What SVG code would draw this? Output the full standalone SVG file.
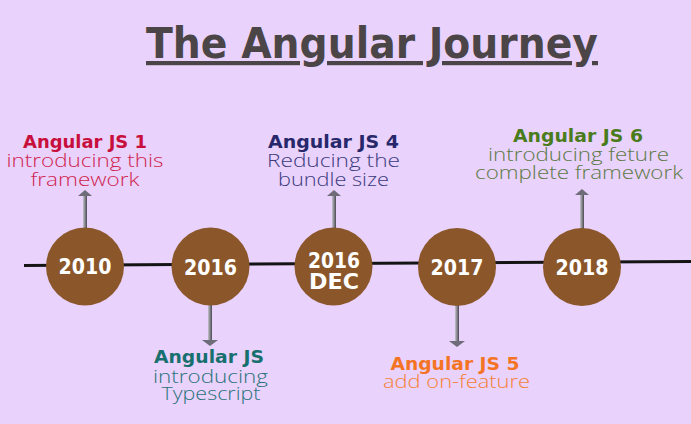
<svg xmlns="http://www.w3.org/2000/svg" width="691" height="424" viewBox="0 0 691 424">
  <defs>
    <linearGradient id="shaft" x1="0" y1="0" x2="1" y2="0">
      <stop offset="0" stop-color="#c4c2cc"/>
      <stop offset="1" stop-color="#4a4850"/>
    </linearGradient>
    <style>
      .title { font-family: "DejaVu Sans", "Liberation Sans", sans-serif; font-weight: 700; font-size: 42px; fill: #4b4548; text-decoration: underline; }
      .year { font-family: "DejaVu Sans", "Liberation Sans", sans-serif; font-weight: 700; font-size: 21px; fill: #ffffff; }
      .hd { font-family: "DejaVu Sans", "Liberation Sans", sans-serif; font-weight: 700; font-size: 18px; }
      .tx { font-family: "Open Sans", "Lato", "DejaVu Sans", sans-serif; font-weight: 300; font-size: 19px; }
      .node circle { fill: #8b572a; }
      .shaft { fill: url(#shaft); }
      .head { fill: #6e6c78; }
    </style>
  </defs>
  <rect x="0" y="0" width="691" height="424" fill="#e9d2fc"/>

  <text class="title" x="372" y="58" text-anchor="middle" textLength="452" lengthAdjust="spacingAndGlyphs">The Angular Journey</text>

  <g id="connectors">
    <line x1="24" y1="265.5" x2="691" y2="261.5" stroke="#141414" stroke-width="3"/>
    <rect class="shaft" x="83" y="195" width="4" height="34"/>
    <polygon class="head" points="78,196 92,196 85,190"/>
    <rect class="shaft" x="332" y="195" width="4" height="34"/>
    <polygon class="head" points="327,196 341,196 334,190"/>
    <rect class="shaft" x="580" y="194" width="4" height="35"/>
    <polygon class="head" points="575,195 589,195 582,189"/>
    <rect class="shaft" x="208" y="304" width="4" height="37"/>
    <polygon class="head" points="202,340 218,340 210,346"/>
    <rect class="shaft" x="455" y="304" width="4" height="38"/>
    <polygon class="head" points="449,341 465,341 457,347"/>
  </g>

  <g id="node-2010" class="node">
    <circle cx="85" cy="266.5" r="39"/>
    <text class="year" x="85" y="274" text-anchor="middle" textLength="53" lengthAdjust="spacingAndGlyphs">2010</text>
  </g>
  <g id="node-2016" class="node">
    <circle cx="210.5" cy="266.5" r="39"/>
    <text class="year" x="210.5" y="275" text-anchor="middle" textLength="53" lengthAdjust="spacingAndGlyphs">2016</text>
  </g>
  <g id="node-2016dec" class="node">
    <circle cx="333.5" cy="266.5" r="39"/>
    <text class="year" x="334" y="268" text-anchor="middle" textLength="52" lengthAdjust="spacingAndGlyphs">2016</text>
    <text class="year" x="334" y="289" text-anchor="middle" textLength="50" lengthAdjust="spacingAndGlyphs">DEC</text>
  </g>
  <g id="node-2017" class="node">
    <circle cx="457" cy="267" r="39"/>
    <text class="year" x="457" y="275" text-anchor="middle" textLength="53" lengthAdjust="spacingAndGlyphs">2017</text>
  </g>
  <g id="node-2018" class="node">
    <circle cx="582" cy="267" r="39"/>
    <text class="year" x="582" y="275" text-anchor="middle" textLength="53" lengthAdjust="spacingAndGlyphs">2018</text>
  </g>

  <g id="label-js1">
    <text class="hd" x="85" y="148" text-anchor="middle" fill="#c80f3c" textLength="124" lengthAdjust="spacingAndGlyphs">Angular JS 1</text>
    <text class="tx" x="85" y="167" text-anchor="middle" fill="#d01f4f" textLength="157" lengthAdjust="spacingAndGlyphs">introducing this</text>
    <text class="tx" x="85" y="186" text-anchor="middle" fill="#d01f4f" textLength="109" lengthAdjust="spacingAndGlyphs">framework</text>
  </g>
  <g id="label-js">
    <text class="hd" x="209" y="363" text-anchor="middle" fill="#17706e" textLength="110" lengthAdjust="spacingAndGlyphs">Angular JS</text>
    <text class="tx" x="210.5" y="383" text-anchor="middle" fill="#2a737a" textLength="115" lengthAdjust="spacingAndGlyphs">introducing</text>
    <text class="tx" x="211" y="400" text-anchor="middle" fill="#2a737a" textLength="99" lengthAdjust="spacingAndGlyphs">Typescript</text>
  </g>
  <g id="label-js4">
    <text class="hd" x="333.5" y="148" text-anchor="middle" fill="#27286b" textLength="131" lengthAdjust="spacingAndGlyphs">Angular JS 4</text>
    <text class="tx" x="333.5" y="167" text-anchor="middle" fill="#3b3b7d" textLength="133" lengthAdjust="spacingAndGlyphs">Reducing the</text>
    <text class="tx" x="333.5" y="186" text-anchor="middle" fill="#3b3b7d" textLength="111" lengthAdjust="spacingAndGlyphs">bundle size</text>
  </g>
  <g id="label-js5">
    <text class="hd" x="455" y="370" text-anchor="middle" fill="#f47424" textLength="129" lengthAdjust="spacingAndGlyphs">Angular JS 5</text>
    <text class="tx" x="456.5" y="388" text-anchor="middle" fill="#f58134" textLength="147" lengthAdjust="spacingAndGlyphs">add on-feature</text>
  </g>
  <g id="label-js6">
    <text class="hd" x="578" y="142" text-anchor="middle" fill="#4a7c1c" textLength="130" lengthAdjust="spacingAndGlyphs">Angular JS 6</text>
    <text class="tx" x="578.5" y="161" text-anchor="middle" fill="#5b7a45" textLength="181" lengthAdjust="spacingAndGlyphs">introducing feture</text>
    <text class="tx" x="579" y="179" text-anchor="middle" fill="#5b7a45" textLength="208" lengthAdjust="spacingAndGlyphs">complete framework</text>
  </g>
</svg>
